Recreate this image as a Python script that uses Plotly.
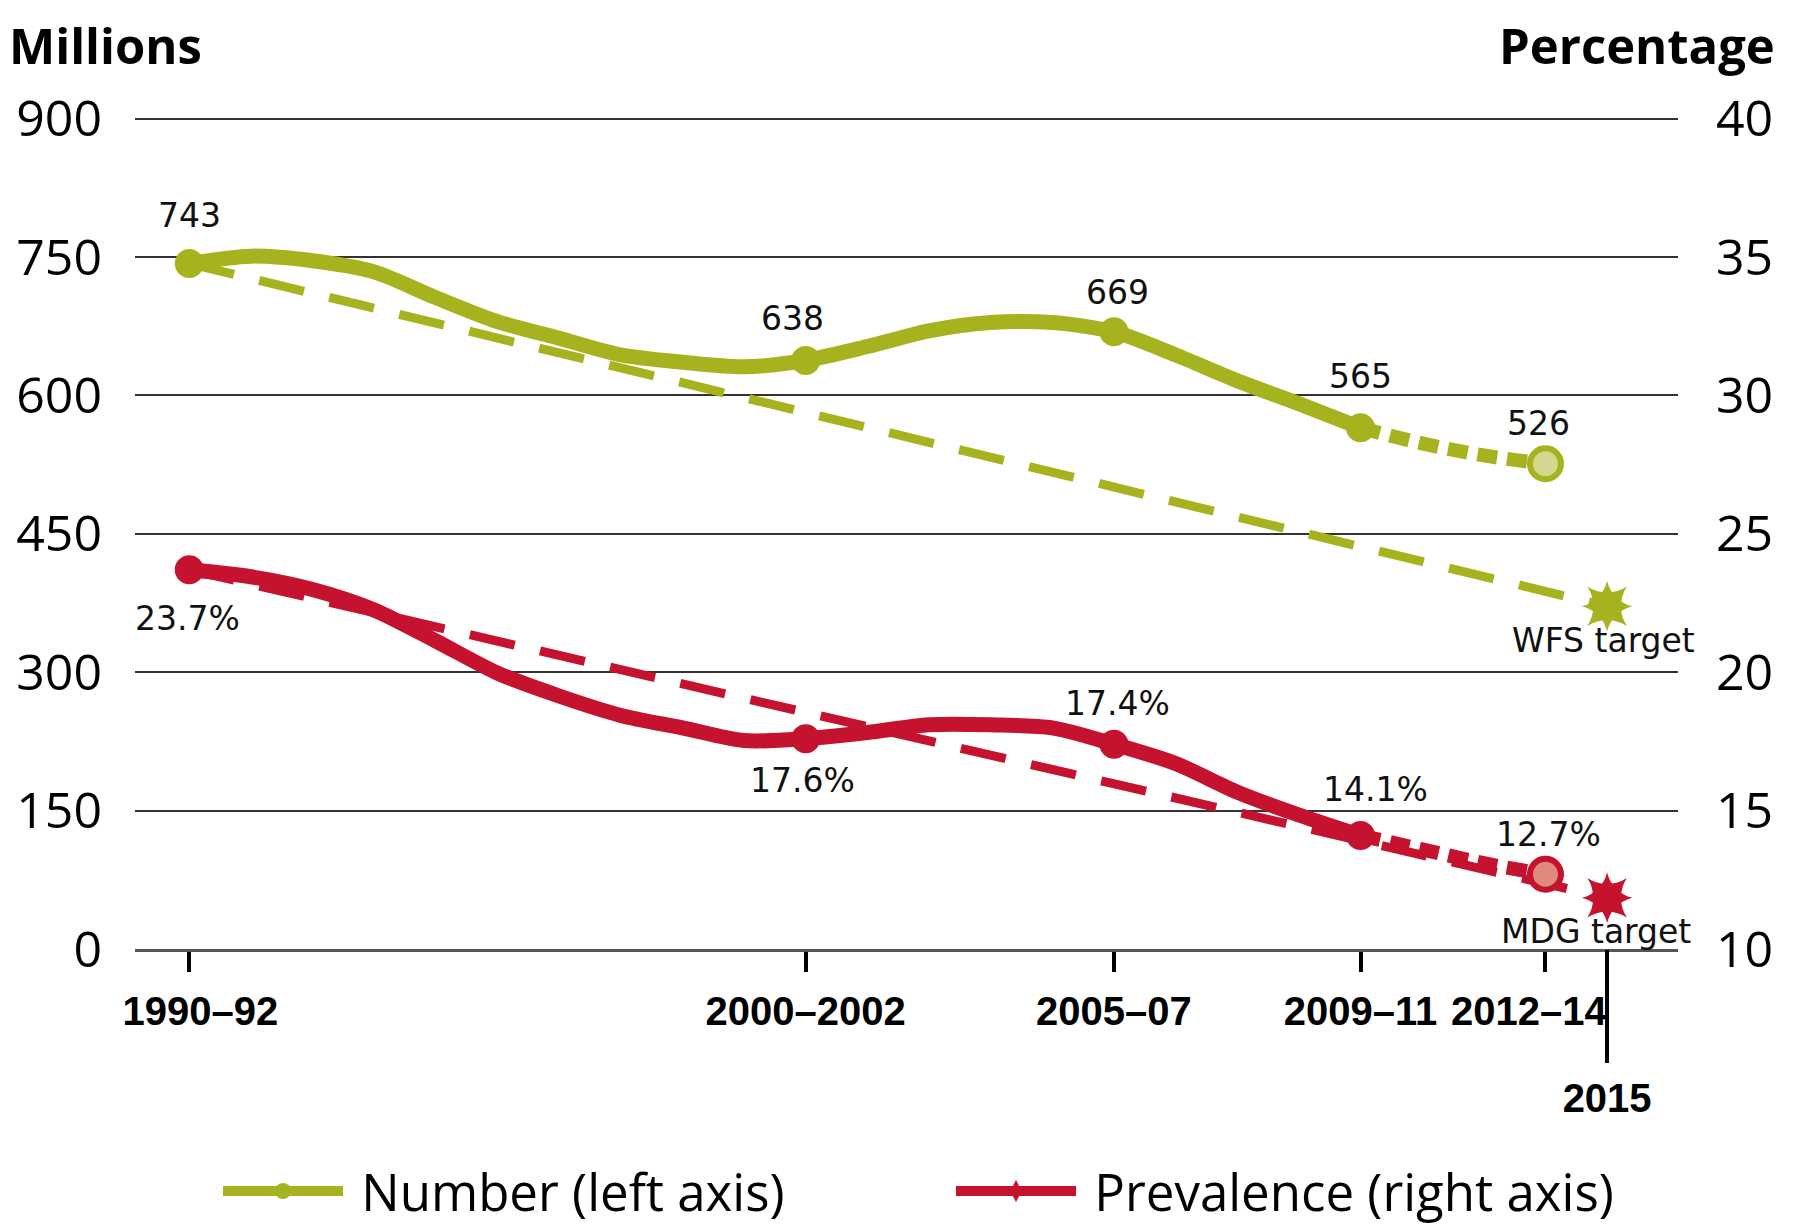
import plotly.graph_objects as go

# ---------------- data ----------------
years = [1991, 1992, 1993, 1994, 1995, 1996, 1997, 1998, 1999, 2000,
         2001, 2002, 2003, 2004, 2005, 2006, 2007, 2008, 2009, 2010]
number_solid = [743, 751, 746, 734, 706, 680, 662, 644, 636, 631,
                638, 653, 670, 679, 679, 669, 644, 616, 591, 565]
prev_solid = [23.7, 23.45, 22.99, 22.25, 21.13, 19.97, 19.14, 18.44, 17.99, 17.53,
              17.6, 17.82, 18.1, 18.1, 17.99, 17.4, 16.7, 15.67, 14.84, 14.1]

proj_years = [2010, 2011, 2012, 2013]
number_proj = [565, 548, 535, 526]
prev_proj = [14.1, 13.6, 13.1, 12.7]

target_years = [1991, 2014]
wfs_target = [743, 371.5]
mdg_target = [23.7, 11.85]

label_years = [1991, 2001, 2006, 2010, 2013]
number_labels = [743, 638, 669, 565, 526]
prev_labels = [23.7, 17.6, 17.4, 14.1, 12.7]

tick_years = [1991, 2001, 2006, 2010, 2013]
tick_text = ["\u00a0\u00a01990–92", "2000–2002", "2005–07", "2009–11", "2012–14\u00a0\u00a0\u00a0"]
target_tick = [2014]
target_tick_text = ["2015"]

left_ticks = [0, 150, 300, 450, 600, 750, 900]
right_ticks = [10, 15, 20, 25, 30, 35, 40]

# ---------------- styles ----------------
GREEN = "#a7b21f"
GREEN_LIGHT = "#d2d890"
RED = "#c4122f"
RED_LIGHT = "#e08a7c"
LABEL_FONT = dict(family="DejaVu Sans, Verdana, sans-serif", size=33, color="#111")
AXIS_FONT = dict(family="Open Sans, Noto Sans, sans-serif", size=50, color="#000")
XTICK_FONT = dict(family="Liberation Sans, Arial, sans-serif", size=40, color="#000", weight="bold")
TITLE_FONT = dict(family="Open Sans, Noto Sans, sans-serif", size=49, color="#000")

num_xshift = [0, -13, 4, 0, -7]
num_yshift = [48, 42, 39, 51, 40]
prev_xshift = [-2, -3, 4, 15, 3]
prev_yshift = [-49, -42, 41, 46, 40]

Y_TOP = 904  # a little headroom so the 900 gridline is drawn
Y2_RANGE = [10, 10 + 30 * Y_TOP / 900]
XRANGE = [1990.12, 2015.15]

fig = go.Figure()

# target dashed lines
fig.add_trace(go.Scatter(x=target_years, y=wfs_target, mode="lines",
                         line=dict(color=GREEN, width=9, dash="46px,26px"),
                         showlegend=False, hoverinfo="skip"))
fig.add_trace(go.Scatter(x=target_years, y=mdg_target, mode="lines", yaxis="y2",
                         line=dict(color=RED, width=9, dash="46px,26px"),
                         showlegend=False, hoverinfo="skip"))

# solid lines
fig.add_trace(go.Scatter(x=years, y=number_solid, mode="lines",
                         line=dict(color=GREEN, width=15, shape="spline", smoothing=0.8),
                         showlegend=False))
fig.add_trace(go.Scatter(x=years, y=prev_solid, mode="lines", yaxis="y2",
                         line=dict(color=RED, width=15, shape="spline", smoothing=0.8),
                         showlegend=False))
# projected dotted lines
fig.add_trace(go.Scatter(x=proj_years, y=number_proj, mode="lines",
                         line=dict(color=GREEN, width=14, dash="20px,10px", shape="spline"),
                         showlegend=False))
fig.add_trace(go.Scatter(x=proj_years, y=prev_proj, mode="lines", yaxis="y2",
                         line=dict(color=RED, width=14, dash="20px,10px", shape="spline"),
                         showlegend=False))

# key markers
fig.add_trace(go.Scatter(x=label_years[:-1], y=number_labels[:-1], mode="markers",
                         marker=dict(color=GREEN, size=29, line=dict(width=0)),
                         showlegend=False))
fig.add_trace(go.Scatter(x=label_years[:-1], y=prev_labels[:-1], mode="markers", yaxis="y2",
                         marker=dict(color=RED, size=29, line=dict(width=0)),
                         showlegend=False))
fig.add_trace(go.Scatter(x=label_years[-1:], y=number_labels[-1:], mode="markers",
                         marker=dict(color=GREEN_LIGHT, size=31, line=dict(width=6, color=GREEN)),
                         showlegend=False))
fig.add_trace(go.Scatter(x=label_years[-1:], y=prev_labels[-1:], mode="markers", yaxis="y2",
                         marker=dict(color=RED_LIGHT, size=31, line=dict(width=6, color=RED)),
                         showlegend=False))

# target stars (8-pointed: two overlaid 4-pointed stars)
fig.add_trace(go.Scatter(x=target_years[-1:] * 2, y=wfs_target[-1:] * 2, mode="markers",
                         marker=dict(color=GREEN, size=36, symbol=["star-square", "star-diamond"],
                                     line=dict(width=0)),
                         showlegend=False))
fig.add_trace(go.Scatter(x=target_years[-1:] * 2, y=mdg_target[-1:] * 2, mode="markers", yaxis="y2",
                         marker=dict(color=RED, size=36, symbol=["star-square", "star-diamond"],
                                     line=dict(width=0)),
                         showlegend=False))

# legend entries
fig.add_trace(go.Scatter(x=[None], y=[None], mode="lines+markers", name="\u00a0Number (left axis)",
                         line=dict(color=GREEN, width=14),
                         marker=dict(color=GREEN, size=28, symbol="circle")))
fig.add_trace(go.Scatter(x=[None], y=[None], mode="lines+markers", name="\u00a0Prevalence (right axis)",
                         line=dict(color=RED, width=14),
                         marker=dict(color=RED, size=28, symbol="diamond-tall")))

# second x axis for the long 2015 tick
fig.add_trace(go.Scatter(x=target_tick, y=[None], xaxis="x2", showlegend=False, hoverinfo="skip"))

annotations = []
for xv, v, dx, dy in zip(label_years, number_labels, num_xshift, num_yshift):
    annotations.append(dict(x=xv, y=v, xref="x", yref="y", text=f"{v}", showarrow=False,
                            xshift=dx, yshift=dy, font=LABEL_FONT))
for xv, v, dx, dy in zip(label_years, prev_labels, prev_xshift, prev_yshift):
    annotations.append(dict(x=xv, y=v, xref="x", yref="y2", text=f"{v}%", showarrow=False,
                            xshift=dx, yshift=dy, font=LABEL_FONT))
annotations.append(dict(x=target_years[-1], y=wfs_target[-1], xref="x", yref="y",
                        text="WFS target", showarrow=False, xshift=-4, yshift=-34, font=LABEL_FONT))
annotations.append(dict(x=target_years[-1], y=mdg_target[-1], xref="x", yref="y2",
                        text="MDG target", showarrow=False, xshift=-11, yshift=-34, font=LABEL_FONT))
annotations.append(dict(x=-0.083, y=1.126, xref="paper", yref="paper", xanchor="left",
                        yanchor="top", text="<b>Millions</b>", showarrow=False, font=TITLE_FONT))
annotations.append(dict(x=1.0641, y=1.126, xref="paper", yref="paper", xanchor="right",
                        yanchor="top", text="<b>Percentage</b>", showarrow=False, font=TITLE_FONT))

fig.update_layout(
    width=1786, height=1224,
    paper_bgcolor="white", plot_bgcolor="white",
    margin=dict(l=127, r=116, t=107, b=283, autoexpand=False),
    annotations=annotations,
    showlegend=True,
    legend=dict(orientation="h", x=0.0538, y=-0.2426, xanchor="left", yanchor="top",
                font=dict(family="Open Sans, Noto Sans, sans-serif", size=51, color="#000"),
                itemwidth=120, entrywidth=598, entrywidthmode="pixels",
                bgcolor="rgba(0,0,0,0)"),
    xaxis=dict(range=XRANGE, tickvals=tick_years, ticktext=tick_text, ticks="outside",
               ticklen=20, tickwidth=4, tickcolor="#000", showgrid=False, zeroline=False,
               showline=True, linecolor="#555", linewidth=3, tickfont=XTICK_FONT,
               tickangle=0, ticklabelstandoff=5),
    xaxis2=dict(range=XRANGE, overlaying="x", anchor="y", side="bottom",
                tickvals=target_tick, ticktext=target_tick_text, ticks="outside",
                ticklen=113, tickwidth=4, tickcolor="#000", showgrid=False, zeroline=False,
                showline=False, tickfont=XTICK_FONT, tickangle=0, ticklabelstandoff=1),
    yaxis=dict(range=[0, Y_TOP], tickvals=left_ticks, showgrid=True, gridcolor="#333",
               gridwidth=2, zeroline=False, showline=False, ticks="",
               tickfont=AXIS_FONT, ticklabelstandoff=32),
    yaxis2=dict(range=Y2_RANGE, tickvals=right_ticks, overlaying="y", side="right",
                showgrid=False, zeroline=False, showline=False, ticks="",
                tickfont=AXIS_FONT, ticklabelstandoff=37),
)

fig.write_html("out.html")
